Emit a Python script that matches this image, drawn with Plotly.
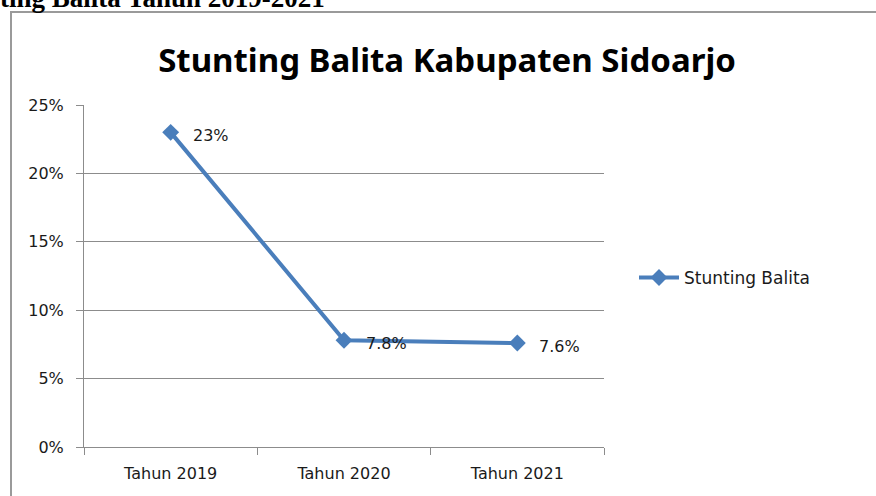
import plotly.graph_objects as go

categories = ["Tahun 2019", "Tahun 2020", "Tahun 2021"]
values = [0.23, 0.078, 0.076]
value_labels = ["23%", "7.8%", "7.6%"]
series_name = "Stunting Balita"
y_ticks = [0, 0.05, 0.10, 0.15, 0.20, 0.25]
y_tick_labels = ["0%", "5%", "10%", "15%", "20%", "25%"]

W, H = 876, 496
L, R, T, B = 84, 604, 105, 447
pw, ph = R - L, B - T

def px(x):
    return (x - L) / pw

def py(y):
    return (B - y) / ph

blue = "#4A7EBB"
grid = "#8C8C8C"
tick_font = dict(family="DejaVu Sans", size=16, color="#1a1a1a")

fig = go.Figure()
fig.add_trace(go.Scatter(
    x=categories, y=values, name=series_name,
    mode="lines+markers",
    line=dict(color=blue, width=4),
    marker=dict(symbol="diamond", size=13, color=blue),
    cliponaxis=False,
))

for cat, val, lab in zip(categories, values, value_labels):
    fig.add_annotation(x=cat, y=val, text=lab, xref="x", yref="y",
                       xanchor="left", yanchor="middle", xshift=20, yshift=-3,
                       showarrow=False, font=tick_font)

fig.update_layout(
    width=W, height=H,
    margin=dict(l=L, r=W - R, t=T, b=H - B, pad=0),
    paper_bgcolor="white", plot_bgcolor="white",
    showlegend=True,
    legend=dict(x=px(634), y=py(278), xanchor="left", yanchor="middle",
                font=dict(family="DejaVu Sans", size=17, color="#1a1a1a"),
                bgcolor="rgba(0,0,0,0)", itemwidth=40),
    title=dict(text="<b>Stunting Balita Kabupaten Sidoarjo</b>",
               x=447 / W, xanchor="center", y=1 - 60 / H, yanchor="middle",
               font=dict(family="Noto Sans", size=33, color="black")),
    xaxis=dict(type="category", range=[-0.5, 2.5], tickson="boundaries",
               showline=True, linecolor=grid, linewidth=1,
               ticks="outside", ticklen=7, tickcolor=grid,
               showgrid=False, tickfont=tick_font, fixedrange=True,
               ticklabelstandoff=12),
    yaxis=dict(range=[0, 0.25], tickvals=y_ticks, ticktext=y_tick_labels,
               showline=True, linecolor=grid, linewidth=1,
               ticks="outside", ticklen=7, tickcolor=grid,
               showgrid=True, gridcolor=grid, gridwidth=1,
               zeroline=False, tickfont=tick_font, ticklabelstandoff=9),
)

# outer frame of the embedded chart
fig.add_shape(type="rect", xref="paper", yref="paper",
              x0=px(11), x1=px(900), y0=py(520), y1=py(12),
              line=dict(color="#9A9A9A", width=2), layer="below")

# cropped caption at top
fig.add_annotation(text="<b>ting Balita Tahun 2019-2021</b>", xref="paper", yref="paper",
                   x=px(-2), y=py(14.7), xanchor="left", yanchor="bottom",
                   showarrow=False,
                   font=dict(family="Liberation Serif", size=27, color="black"))

fig.write_html("out.html", config={"displayModeBar": False},
               post_script="document.body.style.margin='0';")
